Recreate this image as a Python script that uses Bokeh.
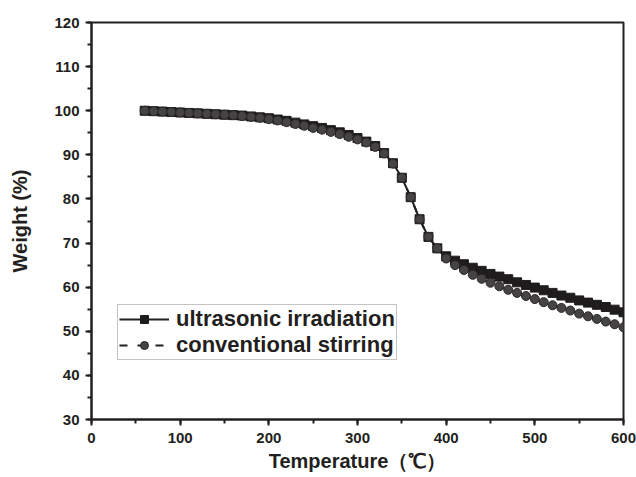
from bokeh.plotting import figure
from bokeh.models import SingleIntervalTicker, Range1d, Legend, LegendItem
from bokeh.embed import file_html
from bokeh.resources import INLINE

temperature = list(range(60, 601, 10))

ultrasonic = [100.0, 99.9, 99.8, 99.7, 99.6, 99.5, 99.4, 99.3, 99.2, 99.1,
              99.0, 98.9, 98.7, 98.5, 98.3, 98.0, 97.7, 97.3, 96.9, 96.5,
              96.1, 95.6, 95.1, 94.5, 93.8, 93.0, 92.0, 90.4, 88.1, 84.8,
              80.4, 75.4, 71.4, 68.8, 67.0, 66.0, 65.2, 64.4, 63.7, 63.0,
              62.4, 61.8, 61.1, 60.5, 59.9, 59.3, 58.7, 58.1, 57.6, 57.0,
              56.5, 56.0, 55.5, 54.9, 54.3]

conventional = [100.0, 99.9, 99.8, 99.7, 99.6, 99.5, 99.4, 99.3, 99.2, 99.1,
                99.0, 98.8, 98.6, 98.4, 98.1, 97.8, 97.4, 97.0, 96.6, 96.1,
                95.7, 95.2, 94.7, 94.1, 93.5, 92.8, 91.8, 90.3, 88.0, 84.8,
                80.4, 75.4, 71.4, 68.8, 66.5, 65.0, 63.9, 62.8, 61.9, 61.0,
                60.2, 59.4, 58.7, 58.0, 57.3, 56.6, 55.9, 55.3, 54.7, 54.0,
                53.4, 52.8, 52.2, 51.6, 50.9]

x_ticks_interval = 100
y_ticks_interval = 10
x_label = "Temperature（℃）"
y_label = "Weight (%)"
series_names = ["ultrasonic irradiation", "conventional stirring"]

FONT = "Liberation Sans"
INK = "#231f20"

p = figure(width=636, height=477, output_backend="svg", toolbar_location=None,
           x_range=Range1d(0, 600), y_range=Range1d(30, 120),
           min_border_left=91, min_border_right=13, min_border_top=22,
           min_border_bottom=58)
p.background_fill_color = "white"
p.border_fill_color = "white"
p.grid.visible = False
p.outline_line_color = INK
p.outline_line_width = 2

p.xaxis.ticker = SingleIntervalTicker(interval=x_ticks_interval, num_minor_ticks=2)
p.yaxis.ticker = SingleIntervalTicker(interval=y_ticks_interval, num_minor_ticks=2)

for ax in (p.xaxis[0], p.yaxis[0]):
    ax.axis_line_width = 2
    ax.axis_line_color = INK
    ax.major_tick_line_width = 2
    ax.major_tick_line_color = INK
    ax.minor_tick_line_width = 2
    ax.minor_tick_line_color = INK
    ax.major_tick_out = 6
    ax.major_tick_in = 0
    ax.minor_tick_out = 4
    ax.minor_tick_in = 0
    ax.major_label_text_font = FONT
    ax.major_label_text_font_style = "bold"
    ax.major_label_text_font_size = "15px"
    ax.major_label_text_color = INK
    ax.axis_label_text_font = FONT
    ax.axis_label_text_font_style = "bold"
    ax.axis_label_text_font_size = "20px"
    ax.axis_label_text_color = INK

p.yaxis.major_label_standoff = 6
p.xaxis.major_label_standoff = 7

p.yaxis.axis_label = y_label
p.yaxis.axis_label_standoff = 20
p.xaxis.axis_label = x_label
p.xaxis.axis_label_standoff = 4

l1 = p.line(temperature, ultrasonic, line_color=INK, line_width=2)
s1 = p.scatter(temperature, ultrasonic, marker="square", size=9,
               fill_color="#1f1c1d", line_color="#1f1c1d")
l2 = p.line(temperature, conventional, line_color=INK, line_width=2,
            line_dash="8 10")
s2 = p.scatter(temperature, conventional, marker="circle", size=9,
               fill_color="#464344", line_color="#2a2728", line_width=1)

legend = Legend(items=[LegendItem(label=series_names[0], renderers=[l1, s1]),
                       LegendItem(label=series_names[1], renderers=[l2, s2])],
                location=(26, 59))
legend.label_text_font = FONT
legend.label_text_font_style = "bold"
legend.label_text_font_size = "22px"
legend.label_text_color = INK
legend.glyph_width = 50
legend.glyph_height = 20
legend.label_height = 20
legend.label_standoff = 7
legend.padding = 1
legend.spacing = 0
legend.margin = 0
legend.border_line_color = "#8a8a8a"
legend.border_line_width = 1
legend.background_fill_alpha = 1
p.add_layout(legend)

open("out.html", "w").write(file_html(p, INLINE))
